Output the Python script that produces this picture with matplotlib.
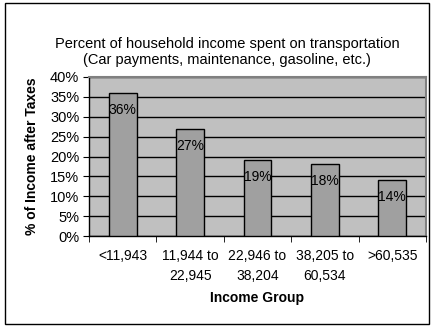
import matplotlib
matplotlib.use("Agg")
import matplotlib.pyplot as plt
from matplotlib.patches import Rectangle
from matplotlib.ticker import FuncFormatter

categories = ["<11,943", "11,944 to\n22,945", "22,946 to\n38,204", "38,205 to\n60,534", ">60,535"]
values = [36, 27, 19, 18, 14]
value_labels = ["36%", "27%", "19%", "18%", "14%"]
yticks = [0, 5, 10, 15, 20, 25, 30, 35, 40]

plt.rcParams['font.family'] = ['Liberation Sans', 'DejaVu Sans']
plt.rcParams['font.size'] = 10

W, H = 432, 327
fig = plt.figure(figsize=(W / 100, H / 100), dpi=100)
fig.patch.set_facecolor("white")

L, R, T, B = 89, 426, 77, 236
ax = fig.add_axes([L / W, 1 - B / H, (R - L) / W, (B - T) / H])
ax.set_facecolor("#C0C0C0")

x = list(range(len(categories)))
ax.bar(x, values, width=0.41, color="#A0A0A0", edgecolor="black", linewidth=1, zorder=3)

for xi, v, lab in zip(x, values, value_labels):
    ax.annotate(lab, (xi, v), xytext=(0, -10), textcoords="offset pixels",
                ha="center", va="top", fontsize=10, zorder=4)

ax.set_xlim(-0.5, len(categories) - 0.5)
ax.set_ylim(0, 40)
ax.set_yticks(yticks)
ax.yaxis.set_major_formatter(FuncFormatter(lambda v, p: f"{int(v)}%"))
ax.yaxis.grid(True, color="black", linewidth=1, zorder=1)
ax.set_axisbelow(True)

ax.set_xticks(x)
ax.set_xticklabels(categories, linespacing=1.55)
ax.set_xticks([i - 0.5 for i in range(len(categories) + 1)], minor=True)
ax.tick_params(axis="x", which="major", length=0, pad=9)
ax.tick_params(axis="x", which="minor", length=4, direction="out", color="black")
ax.tick_params(axis="y", length=4, direction="out", color="black", pad=3, labelsize=10.5)

for s in ["top", "right"]:
    ax.spines[s].set_color("#808080")
    ax.spines[s].set_linewidth(1.5)
for s in ["left", "bottom"]:
    ax.spines[s].set_color("black")
    ax.spines[s].set_linewidth(1)

ax.set_ylabel("% of Income after Taxes", fontweight="bold", fontsize=10, labelpad=8)
fig.text(257 / W, 1 - 298 / H, "Income Group", ha="center", va="center",
         fontweight="bold", fontsize=10)
fig.text(227 / W, 1 - 52 / H,
         "Percent of household income spent on transportation\n(Car payments, maintenance, gasoline, etc.)",
         ha="center", va="center", fontsize=10.5, linespacing=1.2)

fig.patches.append(Rectangle((5 / W, 1 - 324 / H), 424 / W, 321 / H,
                             transform=fig.transFigure, fill=False,
                             edgecolor="black", linewidth=1))

fig.savefig("out.png", dpi=100)
